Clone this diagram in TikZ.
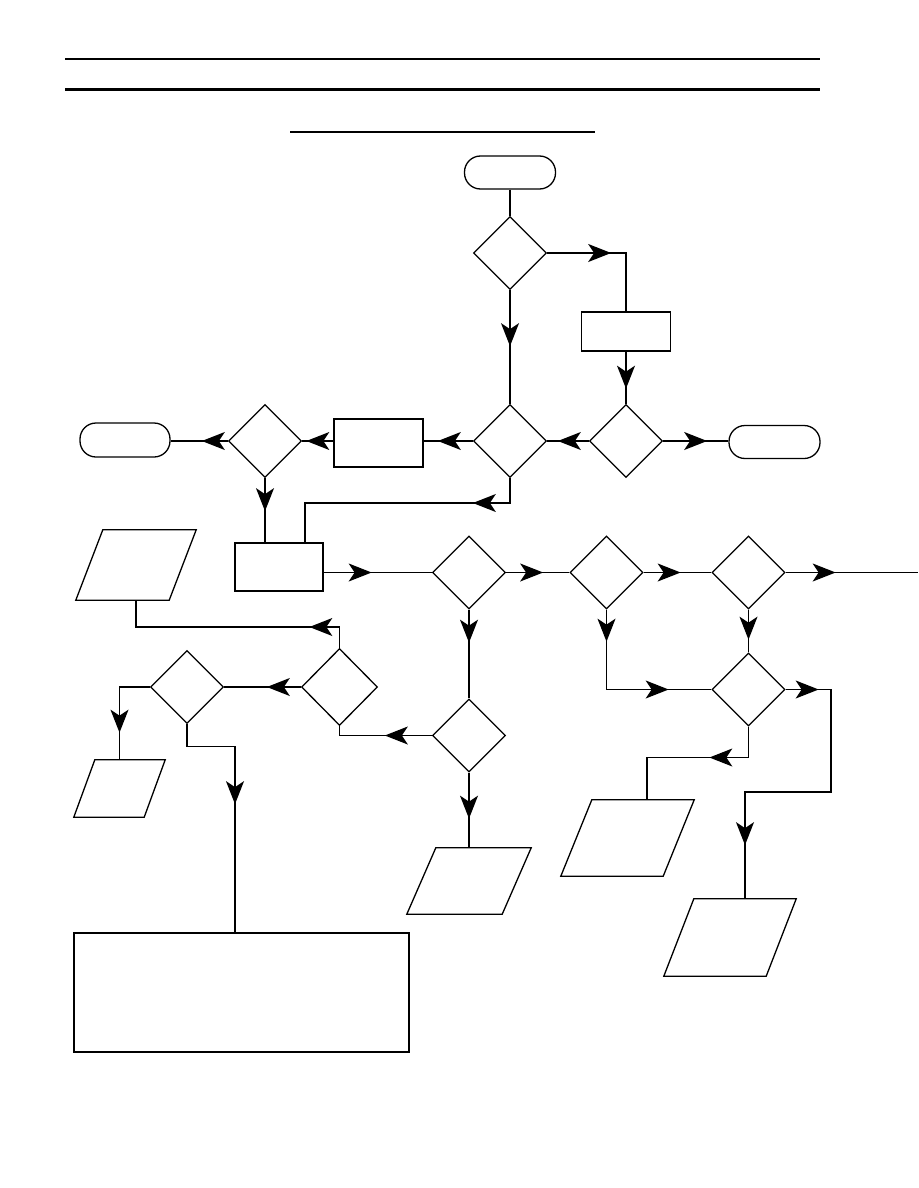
\documentclass[tikz,border=0pt]{standalone}
\usetikzlibrary{shapes.geometric,arrows.meta,decorations.markings,calc}
\tikzset{
  lw/.style={line width=1.3pt},
  term/.style={draw,lw,rectangle,rounded corners=16pt,minimum width=91pt,minimum height=33pt,inner sep=0pt},
  dia/.style={draw,lw,diamond,minimum width=73pt,minimum height=73pt,inner sep=0pt},
  proc/.style={draw,lw,rectangle,inner sep=0pt},
  para/.style={rectangle,inner sep=0pt},
  conn/.style={lw},
  arr/.style={postaction={decorate},decoration={markings,mark=at position #1 with {\arrow{Stealth[length=23pt,width=18pt,inset=6pt]}}}},
  arrtwo/.style 2 args={postaction={decorate},decoration={markings,
     mark=at position #1 with {\arrow{Stealth[length=23pt,width=18pt,inset=6pt]}},
     mark=at position #2 with {\arrow{Stealth[length=23pt,width=18pt,inset=6pt]}}}},
}
\newcommand\myparashape[2]{\draw[lw,line join=miter] (#1.south west) -- ($(#1.south east)+(-#2,0)$) -- (#1.north east) -- ($(#1.north west)+(#2,0)$) -- cycle;}
\begin{document}
\begin{tikzpicture}[x=1pt,y=-1pt]
\useasboundingbox[fill=white] (0,0) rectangle (918,1188);
% header rules
\draw[line width=1.2pt] (65,59) -- (820,59);
\draw[line width=2.6pt] (65,89.5) -- (820,89.5);
\draw[line width=1.4pt] (290,132) -- (595,132);
% nodes
\node[term] (start) at (510,172.5) {};
\node[dia] (d1) at (510,253) {};
\node[proc,minimum width=89pt,minimum height=39pt] (b1) at (626,331.5) {};
\node[dia] (d2) at (510,441) {};
\node[dia] (d3) at (626,441) {};
\node[term] (t2) at (774.5,442) {};
\node[proc,minimum width=89pt,minimum height=48pt] (b2) at (378.5,443) {};
\node[dia] (d4) at (265,441) {};
\node[term,minimum width=90pt,minimum height=34pt] (t1) at (125,440) {};
\node[proc,minimum width=88pt,minimum height=48pt] (b3) at (279,567) {};
\node[dia] (d5) at (469,572.5) {};
\node[dia] (d6) at (606.5,572.5) {};
\node[dia] (d7) at (748.5,572.5) {};
\node[dia] (d8) at (748.5,689.5) {};
\node[dia] (d9) at (469,735.5) {};
\node[dia,minimum width=76pt,minimum height=77pt] (d10) at (339.5,687) {};
\node[dia] (d11) at (187,687) {};
\node[para,minimum width=120pt,minimum height=70pt] (p1) at (136,565) {};
\node[para,minimum width=133pt,minimum height=76pt] (p2) at (627.5,838) {};
\node[para,minimum width=132pt,minimum height=77pt] (p3) at (730,937.5) {};
\node[para,minimum width=91pt,minimum height=57pt] (p4) at (119.5,788.5) {};
\node[para,minimum width=124pt,minimum height=66pt] (p5) at (469,881) {};
\myparashape{p1}{27}
\myparashape{p2}{31}
\myparashape{p3}{30}
\myparashape{p4}{21}
\myparashape{p5}{29}
\node[proc,minimum width=335pt,minimum height=119pt] (big) at (241.5,992.5) {};
% junction coordinates
\coordinate (exit) at (918,572.5);
\coordinate (j2) at (305,503);
\coordinate (j3) at (831,792);
\coordinate (j4) at (745,792);
\coordinate (j5) at (647,757.5);
\coordinate (j7) at (136,627);
\coordinate (j8) at (235,746.5);
% connectors
\draw[conn] (start.south) -- (d1.north);
\draw[conn,arr=64pt] (d1.east) -| (b1.north);
\draw[conn,arr=56pt] (d1.south) -- (d2.north);
\draw[conn,arr=37pt] (b1.south) -- (d3.north);
\draw[conn,arr=31pt] (d3.west) -- (d2.east);
\draw[conn,arr=44pt] (d3.east) -- (d3.east -| t2.west);
\draw[conn,arr=35pt] (d2.west) -- (d2.west -| b2.east);
\draw[conn,arr=27pt] (b2.west |- d4.east) -- (d4.east);
\draw[conn,arr=26pt] (d4.west) -- (t1.east |- d4.west);
\draw[conn,arr=33pt] (d4.south) -- (d4.south |- b3.north);
\draw[conn,arr=62pt] (d2.south) |- (j2) -- (j2 |- b3.north);
\draw[conn,arr=48pt] (b3.east |- d5.west) -- (d5.west);
\draw[conn,arr=37pt] (d5.east) -- (d6.west);
\draw[conn,arr=37pt] (d6.east) -- (d7.west);
\draw[conn,arr=50pt] (d7.east) -- (exit);
\draw[conn,arr=33pt] (d5.south) -- (d9.north);
\draw[conn,arrtwo={32pt}{142pt}] (d6.south) |- (d8.west);
\draw[conn,arr=30pt] (d7.south) -- (d8.north);
\draw[conn,arrtwo={33pt}{287pt}] (d8.east) -| (j3) -- (j4) -- (j4 |- p3.north);
\draw[conn,arr=70pt] (d8.south) |- (j5) -- (j5 |- p2.north);
\draw[conn,arr=47pt] (d9.west) -| (d10.south);
\draw[conn,arr=51pt] (d10.north) |- (j7) -- (p1.south);
\draw[conn,arr=34pt] (d10.west) -- (d11.east);
\draw[conn,arr=76pt] (d11.west) -| (p4.north);
\draw[conn,arr=128pt] (d11.south) |- (j8) -- (j8 |- big.north);
\draw[conn,arr=46pt] (d9.south) -- (p5.north);
\end{tikzpicture}
\end{document}
